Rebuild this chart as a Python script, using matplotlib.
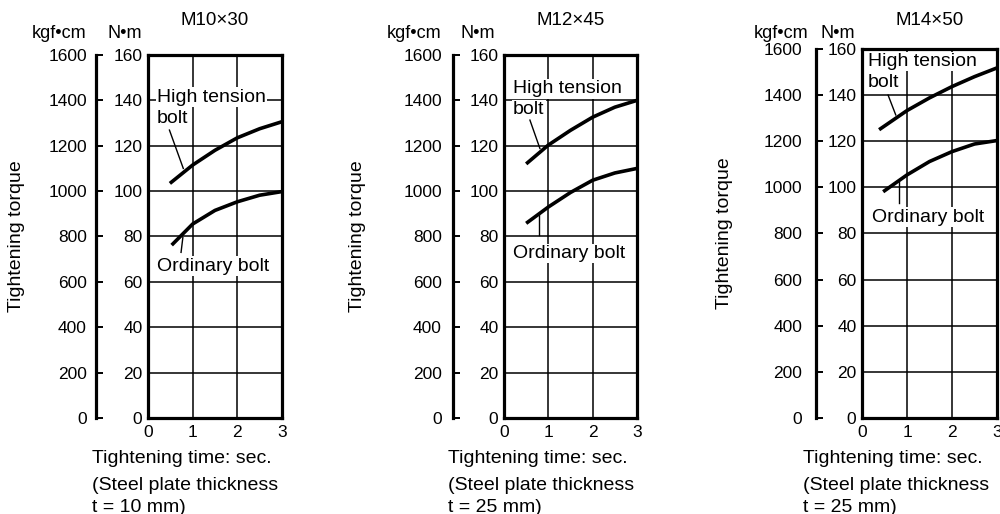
# ============================================================================
# LIBRARY IMPORTS
# ============================================================================
import matplotlib.pyplot as plt
from matplotlib.transforms import blended_transform_factory

plt.rcParams['font.family'] = ['Liberation Sans', 'DejaVu Sans']

# ============================================================================
# DATA
# ============================================================================
titles = ['M10×30', 'M12×45', 'M14×50']
thickness_labels = ['t = 10 mm)', 't = 25 mm)', 't = 25 mm)']
x_ticks = [0, 1, 2, 3]
nm_ticks = [0, 20, 40, 60, 80, 100, 120, 140, 160]
kgf_ticks = [0, 200, 400, 600, 800, 1000, 1200, 1400, 1600]

# Tightening torque (N·m) vs tightening time (sec.)
m10_high_t = [0.49, 1.0, 1.5, 2.0, 2.5, 3.0]
m10_high_v = [103.4, 111.5, 118.0, 123.5, 127.5, 130.6]
m10_ord_t = [0.53, 1.0, 1.5, 2.0, 2.5, 3.0]
m10_ord_v = [76.2, 85.5, 91.5, 95.3, 98.2, 99.8]

m12_high_t = [0.5, 1.0, 1.5, 2.0, 2.5, 3.0]
m12_high_v = [112.0, 120.3, 126.8, 132.6, 137.0, 140.0]
m12_ord_t = [0.5, 1.0, 1.5, 2.0, 2.5, 3.0]
m12_ord_v = [85.8, 93.0, 99.4, 104.8, 108.0, 110.0]

m14_high_t = [0.38, 1.0, 1.5, 2.0, 2.5, 3.0]
m14_high_v = [125.0, 133.3, 138.8, 143.7, 148.0, 151.8]
m14_ord_t = [0.47, 1.0, 1.5, 2.0, 2.5, 3.0]
m14_ord_v = [98.1, 105.4, 111.2, 115.5, 118.8, 120.3]

high_t = [m10_high_t, m12_high_t, m14_high_t]
high_v = [m10_high_v, m12_high_v, m14_high_v]
ord_t = [m10_ord_t, m12_ord_t, m14_ord_t]
ord_v = [m10_ord_v, m12_ord_v, m14_ord_v]

# Curve labels: (x, baseline) in data units, leader lines (x0, y0, x1, y1)
high_label_pos = [(0.2, 139.4, 129.9), (0.2, 143.1, 134.0), (0.13, 152.6, 143.7)]
high_leader = [(0.48, 126.9, 0.79, 110.0), (0.585, 131.3, 0.81, 118.8),
               (0.58, 140.0, 0.75, 131.4)]
ord_label_pos = [(0.2, 64.9), (0.2, 70.5), (0.22, 85.1)]
ord_leader = [(0.78, 79.5, 0.74, 73.0), (0.8, 89.8, 0.8, 80.6),
              (0.83, 102.5, 0.83, 93.4)]

# ============================================================================
# LAYOUT (figure fractions / axes fractions)
# ============================================================================
panel_boxes = [
    [0.148, 0.1868, 0.134, 0.7062],
    [0.504, 0.1868, 0.133, 0.7062],
    [0.862, 0.1868, 0.135, 0.7179],
]
kgf_axis_pos = [-0.388, -0.383, -0.34]
kgf_label_pad = [6.5, 8.0, 10.0]
kgf_unit_x = [-0.463, -0.468, -0.398]
nm_unit_x = [-0.047, -0.068, -0.052]
ylabel_x = [-0.978, -1.105, -1.015]
bottom_text_x = [-0.418, -0.42, -0.437]

# ============================================================================
# FIGURE
# ============================================================================
fig = plt.figure(figsize=(10, 5.14), dpi=100)

for i in range(3):
    ax = fig.add_axes(panel_boxes[i])
    ax.set_xlim(0, 3)
    ax.set_ylim(0, 160)
    ax.set_xticks(x_ticks)
    ax.set_yticks(nm_ticks)
    ax.set_axisbelow(True)
    ax.grid(True, color='black', linewidth=1.1)
    for sp in ax.spines.values():
        sp.set_linewidth(2.3)
    ax.tick_params(axis='both', length=0, labelsize=12.5)
    ax.tick_params(axis='y', pad=4)
    ax.tick_params(axis='x', pad=5)

    # curves
    for tt, vv in ((high_t[i], high_v[i]), (ord_t[i], ord_v[i])):
        ax.plot(tt, vv, color='black', linewidth=2.6, solid_capstyle='butt',
                solid_joinstyle='round', zorder=4, clip_on=False)

    # curve labels
    box = dict(facecolor='white', edgecolor='none', pad=1.0)
    hx, hy1, hy2 = high_label_pos[i]
    ax.text(hx, hy1, 'High tension', fontsize=14, va='baseline', ha='left',
            bbox=box, zorder=3)
    ax.text(hx, hy2, 'bolt', fontsize=14, va='baseline', ha='left',
            bbox=box, zorder=3)
    ox, oy = ord_label_pos[i]
    ax.text(ox, oy, 'Ordinary bolt', fontsize=14, va='baseline', ha='left',
            bbox=box, zorder=3)
    for lx0, ly0, lx1, ly1 in (high_leader[i], ord_leader[i]):
        ax.plot([lx0, lx1], [ly0, ly1], color='black', linewidth=1.0, zorder=4)

    # secondary kgf·cm scale
    sec = ax.secondary_yaxis(kgf_axis_pos[i],
                             functions=(lambda v: v * 10, lambda v: v / 10))
    sec.set_yticks(kgf_ticks)
    sec.spines['left'].set_linewidth(2.3)
    sec.tick_params(direction='in', length=5, width=1.4,
                    pad=kgf_label_pad[i], labelsize=12.5)

    # units and title
    top = blended_transform_factory(ax.transAxes, fig.transFigure)
    ax.text(0.5, 0.951, titles[i], transform=top, ha='center',
            va='baseline', fontsize=13.5)
    ax.text(kgf_unit_x[i], 0.926, 'kgf•cm', transform=top, ha='right',
            va='baseline', fontsize=13)
    ax.text(nm_unit_x[i], 0.926, 'N•m', transform=top, ha='right',
            va='baseline', fontsize=13)

    # axis labels
    ax.text(ylabel_x[i], 0.5, 'Tightening torque', transform=ax.transAxes,
            rotation=90, ha='center', va='center', fontsize=14)
    ax.text(bottom_text_x[i], 0.0992, 'Tightening time: sec.', transform=top,
            ha='left', va='baseline', fontsize=14)
    ax.text(bottom_text_x[i], 0.0467, '(Steel plate thickness', transform=top,
            ha='left', va='baseline', fontsize=14)
    ax.text(bottom_text_x[i], 0.004, thickness_labels[i], transform=top,
            ha='left', va='baseline', fontsize=14)

# ============================================================================
# SAVE
# ============================================================================
plt.savefig('out.png', dpi=100, facecolor='white')
